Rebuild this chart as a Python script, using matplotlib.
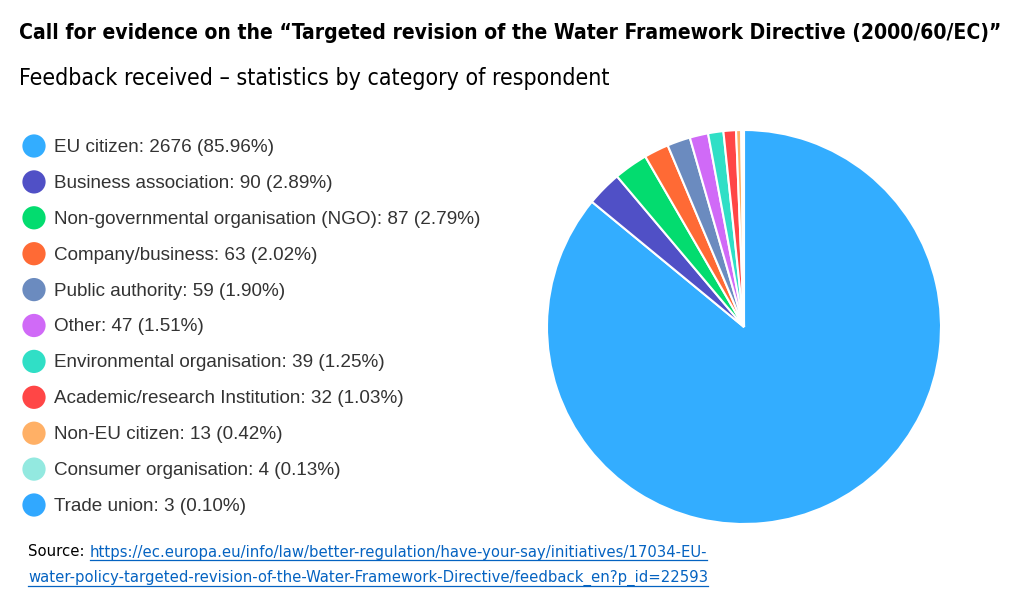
import matplotlib
matplotlib.use("Agg")
import matplotlib.pyplot as plt

# ---------------------------
# Datos
# ---------------------------
categorias = ["EU citizen", "Business association", "Non-governmental organisation (NGO)",
              "Company/business", "Public authority", "Other", "Environmental organisation",
              "Academic/research Institution", "Non-EU citizen", "Consumer organisation",
              "Trade union"]
respuestas = [2676, 90, 87, 63, 59, 47, 39, 32, 13, 4, 3]
porcentajes = ["85.96%", "2.89%", "2.79%", "2.02%", "1.90%", "1.51%", "1.25%",
               "1.03%", "0.42%", "0.13%", "0.10%"]
colores = ["#33adff", "#5050c6", "#03dc6f", "#ff6a35", "#6b8bbf", "#d06af7",
           "#30dfc6", "#ff4646", "#ffb066", "#93e9e0", "#31a8ff"]

titulo = "Call for evidence on the \u201cTargeted revision of the Water Framework Directive (2000/60/EC)\u201d"
subtitulo = "Feedback received \u2013 statistics by category of respondent"
fuente_url = ["https://ec.europa.eu/info/law/better-regulation/have-your-say/initiatives/17034-EU-",
              "water-policy-targeted-revision-of-the-Water-Framework-Directive/feedback_en?p_id=22593"]

fig = plt.figure(figsize=(10.24, 6.0), dpi=100)
W, H = 1024, 600
rend = fig.canvas.get_renderer()


def texto_ajustado(x, y, s, ancho, **kw):
    # ajusta el tamaño para que el texto ocupe 'ancho' píxeles
    t = fig.text(x / W, 1 - y / H, s, va="center", ha="left", fontsize=14, **kw)
    w = t.get_window_extent(rend).width
    t.set_fontsize(14 * ancho / w)
    return t


# ---------------------------
# Títulos
# ---------------------------
cond = dict(family="DejaVu Sans", fontstretch="condensed")
texto_ajustado(19, 33, titulo, 989, fontweight="bold", **cond)
texto_ajustado(19, 79, subtitulo, 594, **cond)

# ---------------------------
# Pastel
# ---------------------------
cx, cy, r = 744, 327, 197
ax = fig.add_axes([(cx - r) / W, (H - cy - r) / H, 2 * r / W, 2 * r / H])
ax.pie(respuestas, colors=colores, startangle=90, counterclock=False,
       wedgeprops=dict(edgecolor="white", linewidth=1.5))
ax.set_xlim(-1, 1)
ax.set_ylim(-1, 1)
ax.set_aspect("auto")
ax.axis("off")

# ---------------------------
# Leyenda
# ---------------------------
top, paso = 146, 35.9
n = len(categorias)
axl = fig.add_axes([0, (H - (top + paso * (n - 0.5))) / H, 520 / W, paso * n / H])
axl.set_xlim(0, 520)
axl.set_ylim(n - 0.5, -0.5)
axl.axis("off")
axl.scatter([34] * n, range(n), s=280, c=colores, linewidths=0)
for i in range(n):
    axl.text(54, i + 0.04, f"{categorias[i]}: {respuestas[i]} ({porcentajes[i]})",
             fontsize=13.6, family="Liberation Sans", color="#333333", va="center")

# ---------------------------
# Fuente
# ---------------------------
u2 = texto_ajustado(28, 578, fuente_url[1], 679, color="#0563c1", **cond)
tam = u2.get_fontsize()
src = fig.text(28 / W, 1 - 552 / H, "Source:", fontsize=tam, color="black",
               va="center", **cond)
x1 = src.get_window_extent(rend).x1 + 5
u1 = fig.text(x1 / W, 1 - 552 / H, fuente_url[0], fontsize=tam, color="#0563c1",
              va="center", **cond)
for u, yy in [(u1, 559.5), (u2, 585.5)]:
    bb = u.get_window_extent(rend)
    fig.add_artist(plt.Line2D([bb.x0 / W, bb.x1 / W], [1 - yy / H] * 2,
                              color="#0563c1", lw=0.9))

fig.savefig("out.png", dpi=100)
